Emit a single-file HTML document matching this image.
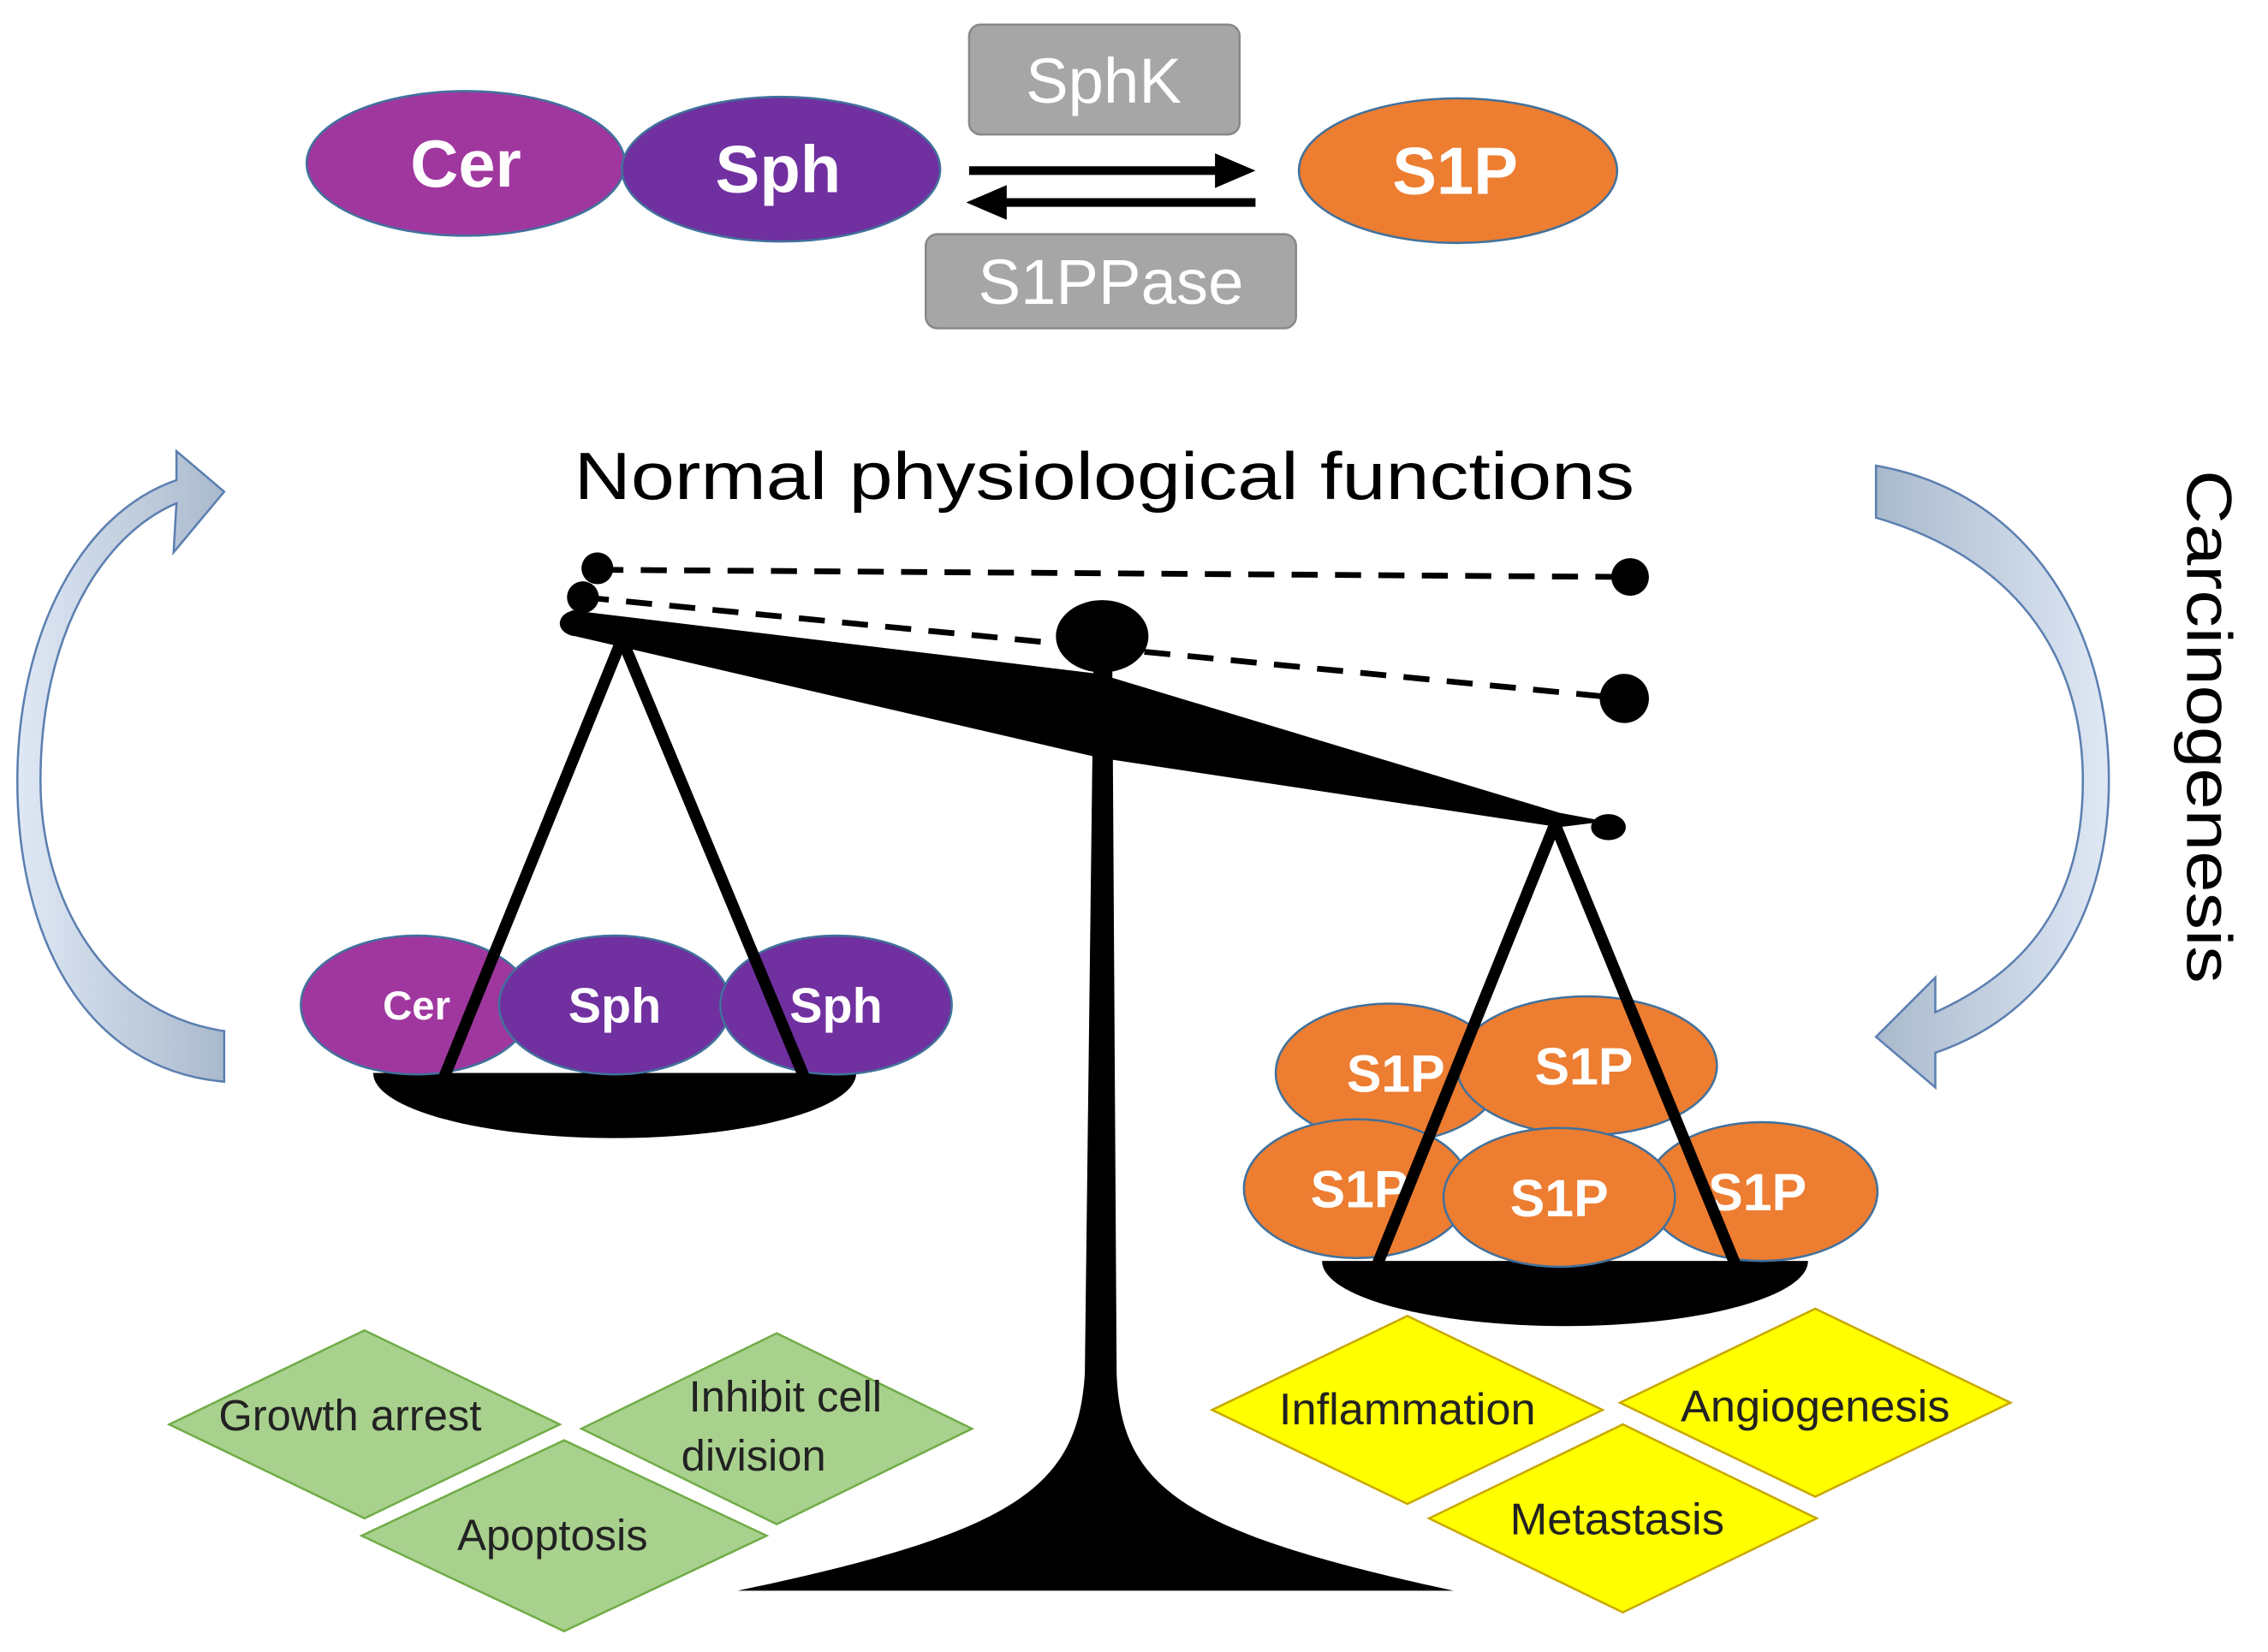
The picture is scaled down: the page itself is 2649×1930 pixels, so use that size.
<!DOCTYPE html>
<html><head><meta charset="utf-8"><style>
html,body{margin:0;padding:0;background:#fff;}
svg{display:block;}
text{font-family:"Liberation Sans","DejaVu Sans",sans-serif;}
</style></head><body>
<svg width="2649" height="1930" viewBox="0 0 1568 1142.4" preserveAspectRatio="none" xmlns="http://www.w3.org/2000/svg">
<defs>
<linearGradient id="bl" x1="0" y1="0" x2="1" y2="0">
<stop offset="0" stop-color="#dfe8f5"/><stop offset="1" stop-color="#a9b9cc"/></linearGradient>
<linearGradient id="br" x1="0" y1="0" x2="1" y2="0">
<stop offset="0" stop-color="#a9b9cc"/><stop offset="1" stop-color="#dfe8f5"/></linearGradient>
</defs>
<rect width="1568" height="1142.4" fill="#fff"/>
<ellipse cx="322" cy="113" rx="110" ry="50" fill="#A0379F" stroke="#41719c" stroke-width="1.5"/>
<text x="322" y="129" font-size="46" font-weight="bold" fill="#fff" text-anchor="middle">Cer</text>
<ellipse cx="540" cy="117" rx="110" ry="50" fill="#7030A0" stroke="#41719c" stroke-width="1.5"/>
<text x="538" y="133" font-size="46" font-weight="bold" fill="#fff" text-anchor="middle">Sph</text>
<rect x="670" y="17" width="187" height="76" rx="8" fill="#a6a6a6" stroke="#888" stroke-width="1.5"/>
<text x="763" y="71" font-size="44" fill="#fff" text-anchor="middle">SphK</text>
<rect x="640" y="162" width="256" height="65" rx="8" fill="#a6a6a6" stroke="#888" stroke-width="1.5"/>
<text x="768" y="210" font-size="44" fill="#fff" text-anchor="middle">S1PPase</text>
<line x1="670" y1="118" x2="845" y2="118" stroke="#000" stroke-width="6"/>
<polygon points="868,118 840,106 840,130" fill="#000"/>
<line x1="692" y1="140" x2="868" y2="140" stroke="#000" stroke-width="6"/>
<polygon points="668,140 696,128 696,152" fill="#000"/>
<ellipse cx="1008" cy="118" rx="110" ry="50" fill="#ED7D31" stroke="#41719c" stroke-width="1.5"/>
<text x="1006" y="134" font-size="46" font-weight="bold" fill="#fff" text-anchor="middle">S1P</text>
<text x="397" y="345" font-size="46" fill="#000" textLength="733" lengthAdjust="spacingAndGlyphs">Normal physiological functions</text>
<text transform="translate(1512,325) rotate(90)" font-size="44" fill="#000" textLength="355" lengthAdjust="spacingAndGlyphs">Carcinogenesis</text>
<path d="M155,748 L155,713 C70,700 28,620 28,540 C28,440 70,370 122,348 L120,382 L155,340 L122,312 L122,332 C55,355 12,440 12,540 C12,650 60,740 155,748 Z" fill="url(#bl)" stroke="#5b7fb0" stroke-width="1.5"/>
<path d="M1297,322 L1297,358 C1390,385 1440,450 1440,540 C1440,625 1400,672 1338,700 L1338,676 L1297,717 L1338,752 L1338,728 C1420,700 1458,625 1458,540 C1458,430 1400,340 1297,322 Z" fill="url(#br)" stroke="#5b7fb0" stroke-width="1.5"/>
<line x1="413" y1="394" x2="1127" y2="399" stroke="#000" stroke-width="4" stroke-dasharray="18,12"/>
<line x1="403" y1="413" x2="1123" y2="483" stroke="#000" stroke-width="4" stroke-dasharray="18,12"/>
<circle cx="413" cy="393" r="11" fill="#000"/>
<circle cx="1127" cy="399" r="13" fill="#000"/>
<circle cx="403" cy="413" r="11" fill="#000"/>
<circle cx="1123" cy="483" r="17" fill="#000"/>
<path d="M756,460 L769,460 L772,950 C775,1030 820,1060 1005,1100 L510,1100 C700,1060 745,1030 750,950 Z" fill="#000"/>
<polygon points="395,422 760,466 1078,562 1110,568 1078,572 760,524 398,440" fill="#000"/>
<ellipse cx="399" cy="431" rx="12" ry="9" fill="#000"/>
<ellipse cx="1112" cy="572" rx="12" ry="9" fill="#000"/>
<ellipse cx="762" cy="440" rx="32" ry="25" fill="#000"/>
<path d="M258,742 A167,45 0 0 0 592,742 Z" fill="#000"/>
<ellipse cx="288" cy="695" rx="80" ry="48" fill="#A0379F" stroke="#41719c" stroke-width="1.5"/>
<text x="288" y="705" font-size="28" font-weight="bold" fill="#fff" text-anchor="middle">Cer</text>
<ellipse cx="425" cy="695" rx="80" ry="48" fill="#7030A0" stroke="#41719c" stroke-width="1.5"/>
<text x="425" y="707" font-size="34" font-weight="bold" fill="#fff" text-anchor="middle">Sph</text>
<ellipse cx="578" cy="695" rx="80" ry="48" fill="#7030A0" stroke="#41719c" stroke-width="1.5"/>
<text x="578" y="707" font-size="34" font-weight="bold" fill="#fff" text-anchor="middle">Sph</text>
<line x1="430" y1="442" x2="307" y2="745" stroke="#000" stroke-width="8"/>
<line x1="430" y1="442" x2="556" y2="745" stroke="#000" stroke-width="8"/>
<path d="M914,872 A168,45 0 0 0 1250,872 Z" fill="#000"/>
<g font-size="36" font-weight="bold" fill="#fff" text-anchor="middle">
<ellipse cx="960" cy="742" rx="78" ry="48" fill="#ED7D31" stroke="#41719c" stroke-width="1.5"/>
<text x="965" y="755">S1P</text>
<ellipse cx="1097" cy="737" rx="90" ry="48" fill="#ED7D31" stroke="#41719c" stroke-width="1.5"/>
<text x="1095" y="750">S1P</text>
<ellipse cx="938" cy="822" rx="78" ry="48" fill="#ED7D31" stroke="#41719c" stroke-width="1.5"/>
<text x="940" y="835">S1P</text>
<ellipse cx="1218" cy="824" rx="80" ry="48" fill="#ED7D31" stroke="#41719c" stroke-width="1.5"/>
<text x="1215" y="837">S1P</text>
<ellipse cx="1078" cy="828" rx="80" ry="48" fill="#ED7D31" stroke="#41719c" stroke-width="1.5"/>
<text x="1078" y="841">S1P</text>
</g>
<line x1="1075" y1="570" x2="952" y2="875" stroke="#000" stroke-width="8"/>
<line x1="1075" y1="570" x2="1200" y2="875" stroke="#000" stroke-width="8"/>
<g fill="#a9d18e" stroke="#70ad47" stroke-width="1.5">
<polygon points="117,985 252,920 387,985 252,1050"/>
<polygon points="402,988 537,922 672,988 537,1054"/>
<polygon points="250,1062 390,996 530,1062 390,1128"/>
</g>
<g font-size="30" fill="#222" text-anchor="middle">
<text x="242" y="989">Growth arrest</text>
<text x="543" y="976">Inhibit cell</text>
<text x="521" y="1017">division</text>
<text x="382" y="1072">Apoptosis</text>
</g>
<g fill="#ffff00" stroke="#c9a800" stroke-width="1.5">
<polygon points="838,975 973,910 1108,975 973,1040"/>
<polygon points="1120,970 1255,905 1390,970 1255,1035"/>
<polygon points="988,1050 1122,985 1256,1050 1122,1115"/>
</g>
<g font-size="31" fill="#222" text-anchor="middle">
<text x="973" y="985">Inflammation</text>
<text x="1255" y="983">Angiogenesis</text>
<text x="1118" y="1061">Metastasis</text>
</g>
</svg>
</body></html>
